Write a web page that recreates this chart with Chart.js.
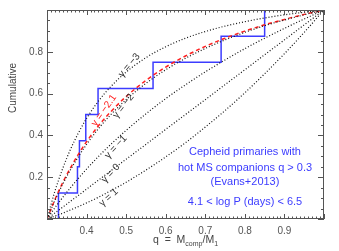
<!DOCTYPE html>
<html>
<head>
<meta charset="utf-8">
<script src="https://cdn.jsdelivr.net/npm/chart.js@4.4.0/dist/chart.umd.min.js"></script>
<style>
  html, body { margin: 0; padding: 0; background: #fff; }
  #wrap { width: 339px; height: 251px; }
</style>
</head>
<body>
<div id="wrap"><canvas id="mycanvas" width="339" height="251"></canvas></div>
<script>
var qGrid = [0.30, 0.32, 0.34, 0.36, 0.38, 0.40, 0.43, 0.46, 0.50, 0.55, 0.60, 0.65, 0.70, 0.75, 0.80, 0.85, 0.90, 0.95, 1.00];

// cumulative curves for f(q) ~ q^gamma
var gamM3  = [0, 0.133, 0.243, 0.336, 0.414, 0.481, 0.564, 0.631, 0.703, 0.772, 0.824, 0.865, 0.897, 0.923, 0.944, 0.962, 0.977, 0.989, 1];
var gamM2  = [0, 0.089, 0.168, 0.238, 0.300, 0.357, 0.432, 0.497, 0.571, 0.649, 0.714, 0.769, 0.816, 0.857, 0.893, 0.925, 0.952, 0.977, 1];
var gamM21 = [0, 0.093, 0.175, 0.247, 0.312, 0.370, 0.446, 0.511, 0.586, 0.663, 0.727, 0.780, 0.826, 0.865, 0.899, 0.929, 0.955, 0.979, 1];
var gamM1  = [0, 0.054, 0.104, 0.151, 0.196, 0.239, 0.299, 0.355, 0.424, 0.503, 0.576, 0.642, 0.704, 0.761, 0.815, 0.865, 0.912, 0.957, 1];
var gam0   = [0, 0.029, 0.057, 0.086, 0.114, 0.143, 0.186, 0.229, 0.286, 0.357, 0.429, 0.500, 0.571, 0.643, 0.714, 0.786, 0.857, 0.929, 1];
var gamP1  = [0, 0.014, 0.028, 0.044, 0.060, 0.077, 0.104, 0.134, 0.176, 0.234, 0.297, 0.365, 0.440, 0.519, 0.604, 0.695, 0.791, 0.893, 1];

// observed Cepheid companions (mass ratios) and cumulative fraction
var obsQ   = [0.329, 0.329, 0.377, 0.382, 0.398, 0.429, 0.568, 0.740, 0.850];
var obsCum = [0, 0.125, 0.250, 0.375, 0.500, 0.625, 0.750, 0.875, 1.000];

var xTicks = [0.4, 0.5, 0.6, 0.7, 0.8, 0.9];
var yTicks = [0.2, 0.4, 0.6, 0.8];

var curveLabels = [
    { text: 'γ = −3',   q: 0.508, f: 0.735, ang: -50, color: '#333' },
    { text: 'γ = −2',   q: 0.493, f: 0.540, ang: -52, color: '#333' },
    { text: 'γ = −2.1', q: 0.444, f: 0.520, ang: -55, color: '#ff2020' },
    { text: 'γ = −1',   q: 0.474, f: 0.345, ang: -47, color: '#333' },
    { text: 'γ = 0',    q: 0.461, f: 0.218, ang: -47, color: '#333' },
    { text: 'γ = 1',    q: 0.456, f: 0.103, ang: -42, color: '#333' }
];

var infoLines = ['Cepheid primaries with', 'hot MS companions q > 0.3', '(Evans+2013)', '4.1 < log P (days) < 6.5'];

function pts(xs, ys) {
    var out = [];
    for (var i in xs) out.push({ x: xs[i], y: ys[i] });
    return out;
}

function dotted(vals) {
    return {
        data: pts(qGrid, vals),
        borderColor: '#111',
        borderWidth: 1.2,
        borderDash: [1, 2],
        pointRadius: 0,
        cubicInterpolationMode: 'monotone',
        fill: false
    };
}

var decor = {
    id: 'decor',
    afterDraw: function (chart) {
        var ctx = chart.ctx, a = chart.chartArea;
        var xs = chart.scales.x, ys = chart.scales.y;
        ctx.save();
        // box
        ctx.strokeStyle = '#555';
        ctx.lineWidth = 1;
        ctx.strokeRect(a.left + 0.5, a.top + 0.5, a.right - a.left - 1, a.bottom - a.top - 1);
        // inside ticks
        ctx.beginPath();
        for (var i = 30; i <= 100; i++) {
            var px = Math.round(xs.getPixelForValue(i / 100)) + 0.5;
            var len = (i % 10 === 0) ? 5 : 2.5;
            ctx.moveTo(px, a.bottom); ctx.lineTo(px, a.bottom - len);
            ctx.moveTo(px, a.top); ctx.lineTo(px, a.top + len);
        }
        for (var j = 0; j <= 20; j++) {
            var py = Math.round(ys.getPixelForValue(j / 20)) + 0.5;
            var l2 = (j % 4 === 0) ? 6 : 3;
            ctx.moveTo(a.left, py); ctx.lineTo(a.left + l2, py);
            ctx.moveTo(a.right, py); ctx.lineTo(a.right - l2, py);
        }
        ctx.stroke();

        // curve labels
        ctx.font = '10px "Liberation Sans", Arial, sans-serif';
        ctx.textAlign = 'center';
        ctx.textBaseline = 'middle';
        curveLabels.forEach(function (c) {
            ctx.save();
            ctx.translate(xs.getPixelForValue(c.q), ys.getPixelForValue(c.f));
            ctx.rotate(c.ang * Math.PI / 180);
            ctx.fillStyle = c.color;
            ctx.fillText(c.text, 0, 0);
            ctx.restore();
        });

        // info text
        ctx.fillStyle = '#3c3cff';
        ctx.font = '11px "Liberation Sans", Arial, sans-serif';
        var yy = [152, 168, 182, 202];
        for (var k = 0; k < infoLines.length; k++) ctx.fillText(infoLines[k], 245, yy[k]);

        // y title
        ctx.fillStyle = '#444';
        ctx.font = '10px "Liberation Sans", Arial, sans-serif';
        ctx.save();
        ctx.translate(13, 88);
        ctx.rotate(-Math.PI / 2);
        ctx.fillText('Cumulative', 0, 0);
        ctx.restore();

        // x title: q = M_comp/M_1
        var parts = [['q  =  M', 10.5, 0], ['comp', 7, 2.5], ['/M', 10.5, 0], ['1', 7, 2.5]];
        var total = 0;
        parts.forEach(function (p) { ctx.font = p[1] + 'px "Liberation Sans", Arial, sans-serif'; total += ctx.measureText(p[0]).width; });
        var x0 = (a.left + a.right) / 2 - total / 2;
        ctx.textAlign = 'left';
        ctx.textBaseline = 'alphabetic';
        parts.forEach(function (p) {
            ctx.font = p[1] + 'px "Liberation Sans", Arial, sans-serif';
            ctx.fillText(p[0], x0, 243 + p[2]);
            x0 += ctx.measureText(p[0]).width;
        });
        ctx.restore();
    }
};

var chartdata = {
    datasets: [
        dotted(gamM3),
        dotted(gamM2),
        dotted(gamM1),
        {
            data: pts(qGrid, gam0),
            borderColor: '#111', borderWidth: 1.2, borderDash: [1, 2], pointRadius: 0, fill: false
        },
        dotted(gamP1),
        {
            data: pts(qGrid, gamM21),
            borderColor: '#ff2020',
            borderWidth: 1.5,
            borderDash: [4, 3],
            pointRadius: 0,
            cubicInterpolationMode: 'monotone',
            fill: false
        },
        {
            data: pts(obsQ, obsCum),
            borderColor: '#3c3cff',
            borderWidth: 1.5,
            stepped: 'before',
            pointRadius: 0,
            fill: false
        }
    ]
};

var tickFont = { family: '"Liberation Sans", Arial, sans-serif', size: 10 };

new Chart(document.getElementById('mycanvas'), {
    type: 'line',
    data: chartdata,
    options: {
        responsive: false,
        animation: false,
        layout: { padding: { top: 2, right: 15, left: 0, bottom: 0 } },
        plugins: { legend: { display: false }, tooltip: { enabled: false } },
        scales: {
            x: {
                type: 'linear', min: 0.3, max: 1.0,
                grid: { display: false, drawTicks: false },
                border: { display: false },
                afterFit: function (s) { s.height = 32; },
                afterBuildTicks: function (s) { s.ticks = xTicks.map(function (v) { return { value: v }; }); },
                ticks: {
                    padding: 6, color: '#555', font: tickFont, maxRotation: 0,
                    callback: function (v) { return Number(v).toFixed(1); }
                }
            },
            y: {
                type: 'linear', min: 0, max: 1,
                grid: { display: false, drawTicks: false },
                border: { display: false },
                afterFit: function (s) { s.width = 47; },
                afterBuildTicks: function (s) { s.ticks = yTicks.map(function (v) { return { value: v }; }); },
                ticks: {
                    padding: 4, color: '#555', font: tickFont,
                    callback: function (v) { return Number(v).toFixed(1); }
                }
            }
        }
    },
    plugins: [decor]
});
</script>
</body>
</html>
